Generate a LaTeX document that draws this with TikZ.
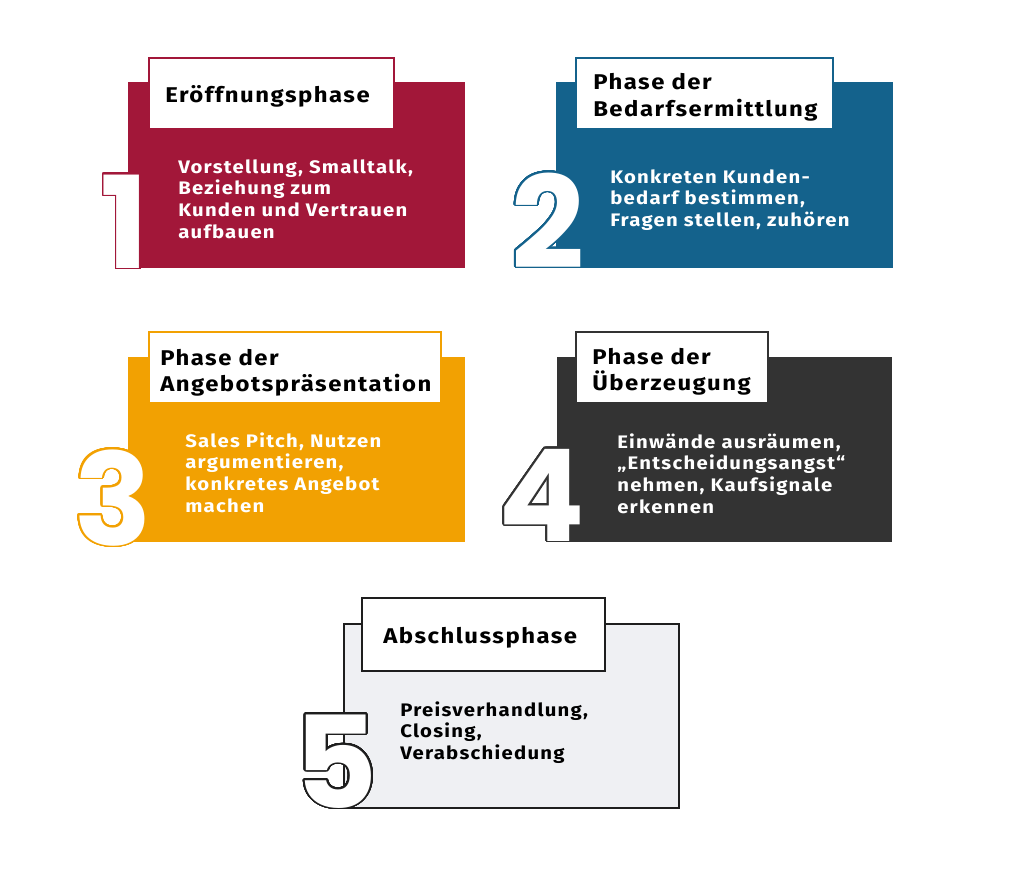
\documentclass[tikz,border=0pt]{standalone}
\usepackage{fontspec}
\setmainfont{Fira Sans}[LetterSpace=7,FakeStretch=1.12]
\newfontfamily\digitfont{Poppins}
\usepackage{contour}
\contourlength{1.3pt}
\contournumber{48}
\definecolor{cone}{HTML}{A21739}
\definecolor{ctwo}{HTML}{14628C}
\definecolor{cthree}{HTML}{F2A102}
\definecolor{cfour}{HTML}{333333}
\definecolor{cfive}{HTML}{1E1E1E}
\definecolor{clight}{HTML}{EFF0F3}
\tikzset{
  panelbox/.style={fill=#1},
  titlebox/.style={draw=#1, line width=1.5pt, fill=white},
  titletext/.style={anchor=base west, inner sep=0pt, text=black,
    font=\bfseries\fontsize{16}{20}\selectfont},
  bodytext/.style={anchor=base west, inner sep=0pt,
    font=\bfseries\fontsize{13.6}{16.3}\selectfont},
  digit/.style={anchor=base, inner sep=0pt, text=white,
    font=\digitfont\bfseries\fontsize{96}{96}\selectfont},
}
\begin{document}
\begin{tikzpicture}[x=0.75pt,y=-0.75pt]
\useasboundingbox (0,0) rectangle (1024,874);
% Panel 1
\fill[panelbox=cone] (128,82) rectangle (465,268);
\draw[titlebox=cone] (149,58) rectangle (394,129);
\node[titletext] (t1) at (165,103) {Eröffnungsphase};
\node[bodytext, text=white] (b1) at (178,173) {\parbox[t]{300pt}{\raggedright Vorstellung, Smalltalk,\\Beziehung zum\\Kunden und Vertrauen\\aufbauen}};
\node[digit] (d1) at (125,268) {\contour{cone}{1}};
% Panel 2
\fill[panelbox=ctwo] (556,82) rectangle (893,268);
\draw[titlebox=ctwo] (576,58) rectangle (833,129);
\node[titletext] (t2) at (593,89.5) {\parbox[t]{300pt}{\raggedright Phase der\\Bedarfsermittlung}};
\node[bodytext, text=white] (b2) at (610,183) {\parbox[t]{300pt}{\raggedright Konkreten Kunden-\\bedarf bestimmen,\\Fragen stellen, zuhören}};
\node[digit] (d2) at (548,268) {\contour{ctwo}{2}};
% Panel 3
\fill[panelbox=cthree] (128,357) rectangle (465,542);
\draw[titlebox=cthree] (149,332) rectangle (441,403);
\node[titletext] (t3) at (160,365) {\parbox[t]{300pt}{\raggedright Phase der\\Angebotspräsentation}};
\node[bodytext, text=white] (b3) at (185,447) {\parbox[t]{300pt}{\raggedright Sales Pitch, Nutzen\\argumentieren,\\konkretes Angebot\\machen}};
\node[digit] (d3) at (113,545) {\contour{cthree}{3}};
% Panel 4
\fill[panelbox=cfour] (557,357) rectangle (892,542);
\draw[titlebox=cfour] (576,332) rectangle (768,403);
\node[titletext] (t4) at (592,364) {\parbox[t]{300pt}{\raggedright Phase der\\Überzeugung}};
\node[bodytext, text=white] (b4) at (617,448) {\parbox[t]{300pt}{\raggedright Einwände ausräumen,\\„Entscheidungsangst“\\nehmen, Kaufsignale\\erkennen}};
\node[digit] (d4) at (542,541) {\contour{cfour}{4}};
% Panel 5
\draw[fill=clight, draw=cfive, line width=1.5pt] (344,624) rectangle (679,808);
\draw[titlebox=cfive] (362,598) rectangle (605,671);
\node[titletext] (t5) at (383,643) {Abschlussphase};
\node[bodytext, text=black] (b5) at (400,716) {\parbox[t]{300pt}{\raggedright Preisverhandlung,\\Closing,\\Verabschiedung}};
\node[digit] (d5) at (336,808) {\contour{cfive}{5}};
\end{tikzpicture}
\end{document}
